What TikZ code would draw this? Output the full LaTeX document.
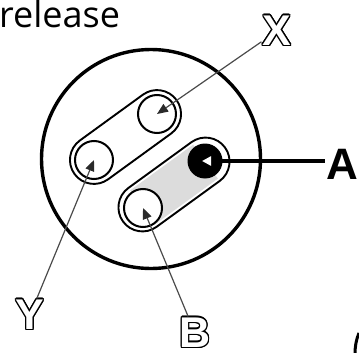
\documentclass[tikz,border=0pt]{standalone}
\usepackage{fontspec}
\setmainfont{Liberation Sans}
\newfontfamily\capfont{Open Sans}
\usepackage[copies]{contour}
\contourlength{1.2pt}
\usetikzlibrary{arrows.meta}
\definecolor{leader}{HTML}{4A4A4A}
\definecolor{tipcol}{HTML}{2A2A2A}
\definecolor{band}{HTML}{DCDCDC}
\newcommand{\hollow}[1]{\contour{black}{\textcolor{white}{#1}}}

\begin{document}
\begin{tikzpicture}[x=1pt,y=-1pt,
  housing/.style={draw, line width=3.4pt, circle, minimum size=219pt, inner sep=0pt},
  capsule/.style={draw, line width=1.9pt, rounded corners=24pt, minimum width=126pt,
                  minimum height=48pt, rotate=36, inner sep=0pt},
  socket/.style={draw, line width=2pt, circle, fill=white, minimum size=38pt, inner sep=0pt},
  pin/.style={circle, fill=black, minimum size=35pt, inner sep=0pt},
  bandfill/.style={fill=band, minimum width=78pt, minimum height=42pt, rotate=36, inner sep=0pt},
  hollowlabel/.style={font=\bfseries\fontsize{43}{43}\selectfont, inner sep=1pt},
  leaderline/.style={draw=leader, line width=1.2pt,
                     -{Triangle[length=11pt,width=9pt,color=tipcol]}},
]
  \useasboundingbox (0,0) rectangle (359,353);

  % caption fragment
  \node[anchor=base west, inner sep=0pt, font=\capfont\fontsize{36}{36}\selectfont]
    (cap) at (-1,28) {release};

  % connector housing
  \node[housing] (body) at (151,159) {};

  % upper pair of contacts
  \node[capsule] (upper) at (125.5,137) {};
  \node[socket] (cx) at (157,114) {};
  \node[socket] (cy) at (94,160) {};

  % lower pair with shaded bridge
  \node[bandfill] (bridge) at (174,184.5) {};
  \node[capsule] (lower) at (174,184.5) {};
  \node[socket] (cb) at (143,208) {};
  \node[pin] (ca) at (205,161) {};

  % labels
  \node[hollowlabel] (lx) at (277,31) {\hollow{X}};
  \node[hollowlabel] (ly) at (30,315) {\hollow{Y}};
  \node[hollowlabel] (lb) at (195,333) {\hollow{B}};
  \node[font=\bfseries\fontsize{44}{44}\selectfont, inner sep=1pt] (la) at (342,164) {A};

  % leaders
  \draw[leaderline] (lx) -- (cx.center);
  \draw[leaderline] (ly) -- (cy.center);
  \draw[leaderline] (lb) -- (cb.center);
  \draw[line width=3.5pt,
        -{Triangle[length=9pt,width=9pt,color=white]}]
    (la.west |- ca.center) -- ([xshift=-3pt]ca.center);

  % edge of the next caption
  \draw[line width=3pt] (359,333) .. controls (356,340) and (355,347) .. (355,354);
\end{tikzpicture}
\end{document}
